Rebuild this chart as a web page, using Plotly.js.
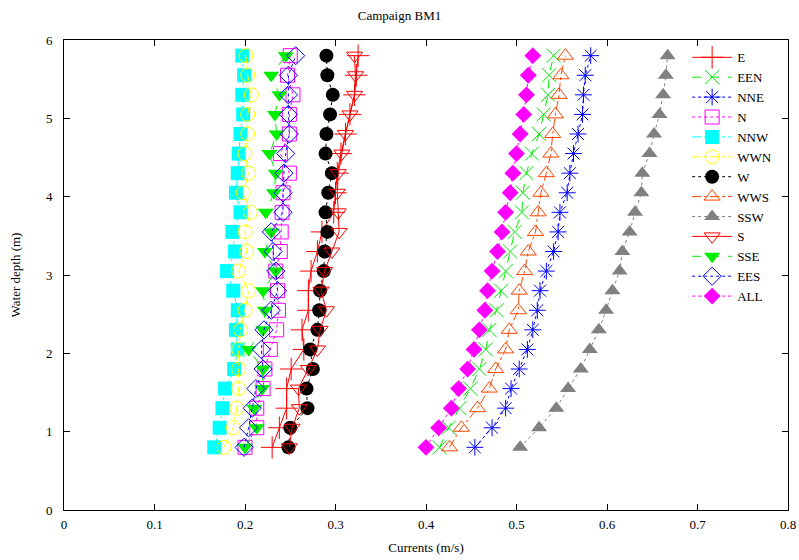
<!DOCTYPE html>
<html>
<head>
<meta charset="utf-8">
<script src="https://cdn.plot.ly/plotly-3.0.1.min.js"></script>
<style>html,body{margin:0;padding:0;background:#fff}#chart{width:799px;height:560px}</style>
</head>
<body>
<div id="chart"></div>
<script>
// Water depths (m), bottom to top
const depth = [0.8, 1.05, 1.3, 1.55, 1.8, 2.05, 2.3, 2.55, 2.8, 3.05, 3.3, 3.55, 3.8, 4.05, 4.3, 4.55, 4.8, 5.05, 5.3, 5.55, 5.8];

// Current speeds (m/s) per direction, same order as depth
const E   = [0.230, 0.238, 0.246, 0.246, 0.251, 0.265, 0.263, 0.270, 0.270, 0.273, 0.280, 0.285, 0.298, 0.300, 0.302, 0.306, 0.311, 0.316, 0.321, 0.323, 0.325];
const EEN = [0.415, 0.425, 0.437, 0.449, 0.459, 0.466, 0.470, 0.478, 0.483, 0.488, 0.493, 0.498, 0.506, 0.507, 0.511, 0.517, 0.525, 0.530, 0.535, 0.536, 0.541];
const NNE = [0.454, 0.473, 0.488, 0.494, 0.503, 0.512, 0.518, 0.523, 0.526, 0.533, 0.541, 0.546, 0.548, 0.556, 0.559, 0.563, 0.568, 0.573, 0.574, 0.576, 0.582];
const N   = [0.200, 0.213, 0.213, 0.220, 0.222, 0.228, 0.235, 0.237, 0.236, 0.234, 0.239, 0.240, 0.241, 0.242, 0.249, 0.239, 0.249, 0.249, 0.253, 0.247, 0.250];
const NNW = [0.166, 0.172, 0.175, 0.178, 0.188, 0.192, 0.190, 0.192, 0.187, 0.180, 0.189, 0.186, 0.195, 0.190, 0.192, 0.193, 0.195, 0.198, 0.197, 0.199, 0.197];
const WWN = [0.177, 0.187, 0.191, 0.193, 0.193, 0.193, 0.195, 0.200, 0.204, 0.193, 0.202, 0.200, 0.206, 0.198, 0.204, 0.200, 0.203, 0.203, 0.207, 0.203, 0.201];
const W   = [0.248, 0.250, 0.269, 0.268, 0.275, 0.272, 0.280, 0.282, 0.283, 0.287, 0.288, 0.291, 0.289, 0.292, 0.296, 0.289, 0.290, 0.294, 0.297, 0.291, 0.290];
const WWS = [0.426, 0.439, 0.457, 0.470, 0.477, 0.488, 0.492, 0.502, 0.503, 0.509, 0.513, 0.521, 0.524, 0.527, 0.533, 0.538, 0.540, 0.543, 0.547, 0.549, 0.554];
const SSW = [0.504, 0.525, 0.544, 0.557, 0.571, 0.581, 0.591, 0.599, 0.606, 0.614, 0.617, 0.625, 0.631, 0.638, 0.639, 0.647, 0.652, 0.658, 0.662, 0.665, 0.667];
const S   = [0.249, 0.252, 0.260, 0.259, 0.270, 0.280, 0.283, 0.290, 0.284, 0.288, 0.296, 0.304, 0.303, 0.302, 0.303, 0.307, 0.311, 0.316, 0.321, 0.322, 0.321];
const SSE = [0.200, 0.213, 0.210, 0.219, 0.220, 0.204, 0.220, 0.222, 0.220, 0.234, 0.222, 0.229, 0.223, 0.232, 0.234, 0.227, 0.235, 0.233, 0.238, 0.229, 0.245];
const EES = [0.199, 0.204, 0.208, 0.212, 0.220, 0.218, 0.221, 0.229, 0.236, 0.234, 0.231, 0.229, 0.242, 0.242, 0.243, 0.245, 0.249, 0.248, 0.248, 0.248, 0.256];
const ALL = [0.400, 0.414, 0.428, 0.436, 0.446, 0.453, 0.459, 0.465, 0.468, 0.473, 0.479, 0.484, 0.488, 0.493, 0.496, 0.500, 0.504, 0.508, 0.511, 0.513, 0.518];

const seriesNames = ['E', 'EEN', 'NNE', 'N', 'NNW', 'WWN', 'W', 'WWS', 'SSW', 'S', 'SSE', 'EES', 'ALL'];
const seriesData  = [E, EEN, NNE, N, NNW, WWN, W, WWS, SSW, S, SSE, EES, ALL];

const styles = [
  {color: '#ff0000', dash: 'solid',   symbol: 'cross-thin-open',     size: 16},
  {color: '#00ee00', dash: 'dash',    symbol: 'x-thin-open',         size: 14},
  {color: '#0000ff', dash: 'dot',     symbol: 'asterisk-open',       size: 14},
  {color: '#ff00ff', dash: 'dot',     symbol: 'square-open',         size: 14},
  {color: '#00ffff', dash: 'dashdot', symbol: 'square',              size: 14},
  {color: '#ffff00', dash: 'dashdot', symbol: 'circle-open',         size: 14},
  {color: '#000000', dash: 'dot',     symbol: 'circle',              size: 14},
  {color: '#ff4500', dash: 'dashdot', symbol: 'triangle-up-open',    size: 14},
  {color: '#808080', dash: 'dot',     symbol: 'triangle-up',         size: 14},
  {color: '#ff0000', dash: 'solid',   symbol: 'triangle-down-open',  size: 14},
  {color: '#00ee00', dash: 'dash',    symbol: 'triangle-down',       size: 14},
  {color: '#0000ff', dash: 'dot',     symbol: 'diamond-open',        size: 14},
  {color: '#ff00ff', dash: 'dot',     symbol: 'diamond',             size: 13}
];

const traces = seriesNames.map((name, i) => {
  const st = styles[i];
  const open = st.symbol.indexOf('open') >= 0;
  return {
    type: 'scatter',
    mode: 'lines+markers',
    name: name,
    x: seriesData[i],
    y: depth,
    line: {color: st.color, width: 1, dash: st.dash},
    marker: {symbol: st.symbol, size: st.size, color: st.color,
             line: {color: st.color, width: open ? 1 : 0}}
  };
});

const fontFam = 'Liberation Serif';

const layout = {
  width: 799, height: 560,
  margin: {l: 64, r: 11, t: 40, b: 50},
  paper_bgcolor: '#ffffff', plot_bgcolor: '#ffffff',
  font: {family: fontFam, size: 13, color: '#000'},
  title: {text: 'Campaign BM1', font: {family: fontFam, size: 13, color: '#000'}, x: 0.5, xanchor: 'center', y: 0.972, yanchor: 'middle'},
  showlegend: true,
  legend: {x: 0.985, xanchor: 'right', y: 0.995, yanchor: 'top', bgcolor: 'rgba(0,0,0,0)',
           font: {family: fontFam, size: 13, color: '#000'}, tracegroupgap: 0, itemwidth: 40},
  xaxis: {range: [0, 0.8], dtick: 0.1, tick0: 0, showgrid: false, zeroline: false,
          showline: true, linecolor: '#000', linewidth: 1, mirror: 'ticks',
          ticks: 'inside', ticklen: 6, tickcolor: '#000', ticklabelstandoff: 2,
          tickfont: {family: fontFam, size: 13, color: '#000'},
          title: {text: 'Currents (m/s)', font: {family: fontFam, size: 13, color: '#000'}, standoff: 12}},
  yaxis: {range: [0, 6], dtick: 1, tick0: 0, showgrid: false, zeroline: false,
          showline: true, linecolor: '#000', linewidth: 1, mirror: 'ticks',
          ticks: 'inside', ticklen: 6, tickcolor: '#000', ticklabelstandoff: 8,
          tickfont: {family: fontFam, size: 13, color: '#000'},
          title: {text: 'Water depth (m)', font: {family: fontFam, size: 13, color: '#000'}, standoff: 22}}
};

Plotly.newPlot('chart', traces, layout, {displayModeBar: false, staticPlot: true});
</script>
</body>
</html>
